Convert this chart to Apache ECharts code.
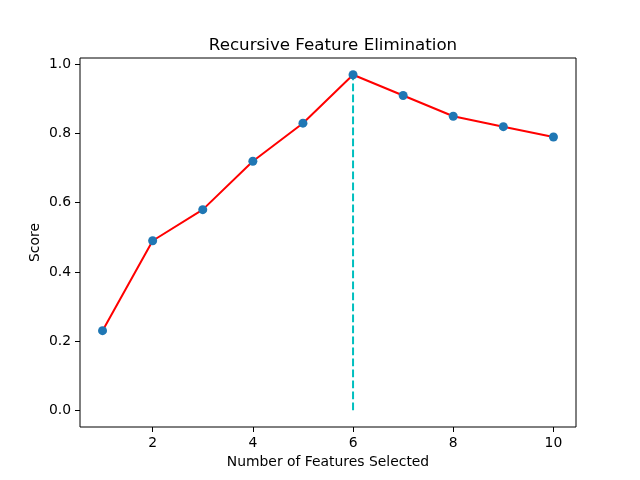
<!DOCTYPE html>
<html>
<head>
<meta charset="utf-8">
<script src="https://cdn.jsdelivr.net/npm/echarts@6/dist/echarts.min.js"></script>
<style>
  html, body { margin: 0; padding: 0; background: #fff; }
  #chart { width: 640px; height: 480px; }
</style>
</head>
<body>
<div id="chart"></div>
<script>
var numFeatures = [1, 2, 3, 4, 5, 6, 7, 8, 9, 10];
var scores = [0.23, 0.49, 0.58, 0.72, 0.83, 0.97, 0.91, 0.85, 0.82, 0.79];
var xTicks = [2, 4, 6, 8, 10];
var yTicks = [0.0, 0.2, 0.4, 0.6, 0.8, 1.0];

// best point -> vertical dashed line from 0 up to it
var best = 0;
for (var i = 1; i < scores.length; i++) {
    if (scores[i] > scores[best]) best = i;
}
var vline = [[numFeatures[best], 0], [numFeatures[best], scores[best]]];

var points = numFeatures.map(function (n, i) { return [n, scores[i]]; });

// matplotlib style 5% margins
var xPad = (numFeatures[numFeatures.length - 1] - numFeatures[0]) * 0.05;
var yPad = (scores[best] - 0) * 0.05;

var font = 'DejaVu Sans';
var chart = echarts.init(document.getElementById('chart'));

var option = {
    animation: false,
    backgroundColor: '#fff',
    title: {
        text: 'Recursive Feature Elimination',
        left: 328,
        top: 32,
        textAlign: 'center',
        textStyle: { fontFamily: font, fontSize: 16.7, fontWeight: 'normal', color: '#000' }
    },
    grid: {
        left: 80, right: 64, top: 58, bottom: 53,
        show: true, borderColor: '#000', borderWidth: 1, backgroundColor: 'transparent'
    },
    xAxis: {
        type: 'value',
        min: numFeatures[0] - xPad,
        max: numFeatures[numFeatures.length - 1] + xPad,
        name: 'Number of Features Selected',
        nameLocation: 'middle',
        nameGap: 28,
        nameMoveOverlap: false,
        nameTextStyle: { fontFamily: font, fontSize: 13.9, color: '#000' },
        axisLine: { show: false, onZero: false },
        splitLine: { show: false },
        axisTick: { show: true, inside: false, length: 5, lineStyle: { color: '#000', width: 1 }, customValues: xTicks },
        axisLabel: { fontFamily: font, fontSize: 13.9, color: '#000', margin: 9, customValues: xTicks }
    },
    yAxis: {
        type: 'value',
        min: -yPad,
        max: scores[best] + yPad,
        name: 'Score',
        nameLocation: 'middle',
        nameGap: 38,
        nameMoveOverlap: false,
        nameTextStyle: { fontFamily: font, fontSize: 13.9, color: '#000' },
        axisLine: { show: false, onZero: false },
        splitLine: { show: false },
        axisTick: { show: true, inside: false, length: 5, lineStyle: { color: '#000', width: 1 }, customValues: yTicks },
        axisLabel: {
            fontFamily: font, fontSize: 13.9, color: '#000', margin: 9, customValues: yTicks,
            formatter: function (v) { return v.toFixed(1); }
        }
    },
    series: [
        {
            type: 'line',
            data: vline,
            symbol: 'none',
            z: 1,
            lineStyle: { color: '#00bfbf', width: 2, type: [7.7, 3.3] }
        },
        {
            type: 'line',
            data: points,
            symbol: 'circle',
            symbolSize: 9,
            z: 2,
            lineStyle: { color: '#ff0000', width: 2 },
            itemStyle: { color: '#1f77b4', borderWidth: 0 }
        }
    ]
};
chart.setOption(option);
</script>
</body>
</html>
